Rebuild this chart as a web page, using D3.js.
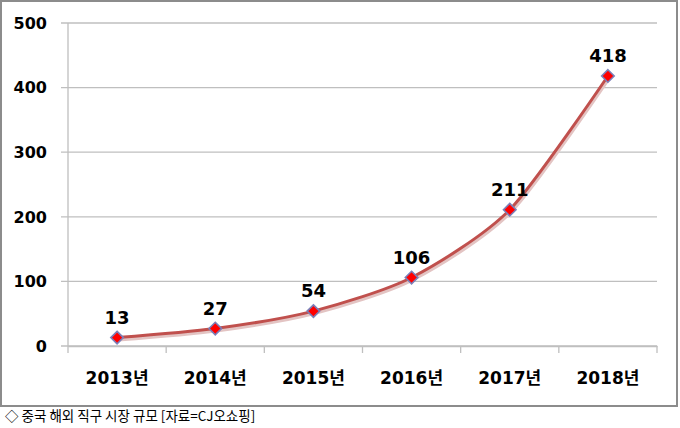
<!DOCTYPE html>
<html>
<head>
<meta charset="utf-8">
<script src="https://cdn.jsdelivr.net/npm/d3@7"></script>
<style>
  body { margin: 0; background: #fff; }
  svg { display: block; }
</style>
</head>
<body>
<div id="chart"></div>
<script>
// chart data
const years = ["2013년", "2014년", "2015년", "2016년", "2017년", "2018년"];
const values = [13, 27, 54, 106, 211, 418];
const yTicks = [0, 100, 200, 300, 400, 500];
const caption = "◇ 중국 해외 직구 시장 규모 [자료=CJ오쇼핑]";

const W = 680, H = 428;
const margin = {top: 23, right: 23, bottom: 82, left: 68},
    width = W - margin.left - margin.right,
    height = H - margin.top - margin.bottom;

const font = "'DejaVu Sans', 'Noto Sans CJK KR', sans-serif";

const root = d3.select("#chart")
  .append("svg")
    .attr("width", W)
    .attr("height", H);

// outer frame
root.append("rect")
  .attr("x", 1).attr("y", 1)
  .attr("width", 676).attr("height", 405)
  .attr("fill", "#fff")
  .attr("stroke", "#8c8c8c")
  .attr("stroke-width", 2);

const svg = root.append("g")
  .attr("transform", `translate(${margin.left},${margin.top})`);

const x = d3.scaleBand()
  .domain(years)
  .range([0, width]);

const y = d3.scaleLinear()
  .domain([0, 500])
  .range([height, 0]);

// horizontal gridlines with small left stubs
svg.append("g")
  .selectAll("line")
  .data(yTicks)
  .join("line")
    .attr("x1", -7)
    .attr("x2", width)
    .attr("y1", d => y(d))
    .attr("y2", d => y(d))
    .attr("stroke", "#bfbfbf")
    .attr("stroke-width", 1.3);

// y axis line
svg.append("line")
  .attr("x1", 0).attr("x2", 0)
  .attr("y1", 0).attr("y2", height)
  .attr("stroke", "#bfbfbf")
  .attr("stroke-width", 1.3);

// y tick labels
svg.append("g")
  .selectAll("text")
  .data(yTicks)
  .join("text")
    .attr("x", -21)
    .attr("y", d => y(d))
    .attr("dy", "0.36em")
    .attr("text-anchor", "end")
    .attr("font-family", font)
    .attr("font-weight", "bold")
    .attr("font-size", 16)
    .attr("fill", "#000")
    .text(d => d);

// x axis with ticks at band edges
const xAxis = svg.append("g")
  .attr("transform", `translate(0,${height})`)
  .call(d3.axisBottom(x).tickSize(0).tickPadding(26));
xAxis.select(".domain")
  .attr("stroke", "#bfbfbf")
  .attr("stroke-width", 1.3);
xAxis.selectAll("text")
  .attr("font-family", font)
  .attr("font-weight", "bold")
  .attr("font-size", 17)
  .attr("fill", "#000");

const edges = years.map(d => x(d)).concat([width]);
xAxis.selectAll(".edge")
  .data(edges)
  .join("line")
    .attr("class", "edge")
    .attr("x1", d => d).attr("x2", d => d)
    .attr("y1", 0).attr("y2", 7)
    .attr("stroke", "#bfbfbf")
    .attr("stroke-width", 1.3);

const cx = d => x(d) + x.bandwidth() / 2;
const line = d3.line()
  .x((d, i) => cx(years[i]))
  .y(d => y(d))
  .curve(d3.curveCardinal.tension(0.25));

// soft shadow under the line
svg.append("path")
  .datum(values)
  .attr("fill", "none")
  .attr("stroke", "#e3c4c3")
  .attr("stroke-width", 4)
  .attr("transform", "translate(1,2)")
  .attr("d", line);

svg.append("path")
  .datum(values)
  .attr("fill", "none")
  .attr("stroke", "#c0504d")
  .attr("stroke-width", 3)
  .attr("d", line);

// diamond markers
svg.selectAll(".marker")
  .data(values)
  .join("path")
    .attr("class", "marker")
    .attr("d", d3.symbol().type(d3.symbolDiamond2).size(100))
    .attr("transform", (d, i) => `translate(${cx(years[i])},${y(d)})`)
    .attr("fill", "#ff0000")
    .attr("stroke", "#7b7fb8")
    .attr("stroke-width", 1.6);

// data labels
svg.selectAll(".label")
  .data(values)
  .join("text")
    .attr("class", "label")
    .attr("x", (d, i) => cx(years[i]))
    .attr("y", d => y(d) - 14)
    .attr("text-anchor", "middle")
    .attr("font-family", font)
    .attr("font-weight", "bold")
    .attr("font-size", 18)
    .attr("fill", "#000")
    .text(d => d);

// caption under the frame
root.append("text")
  .attr("x", 5)
  .attr("y", 421)
  .attr("font-family", "'Noto Sans CJK KR', sans-serif")
  .attr("font-size", 13.5)
  .attr("fill", "#000")
  .text(caption);
</script>
</body>
</html>
